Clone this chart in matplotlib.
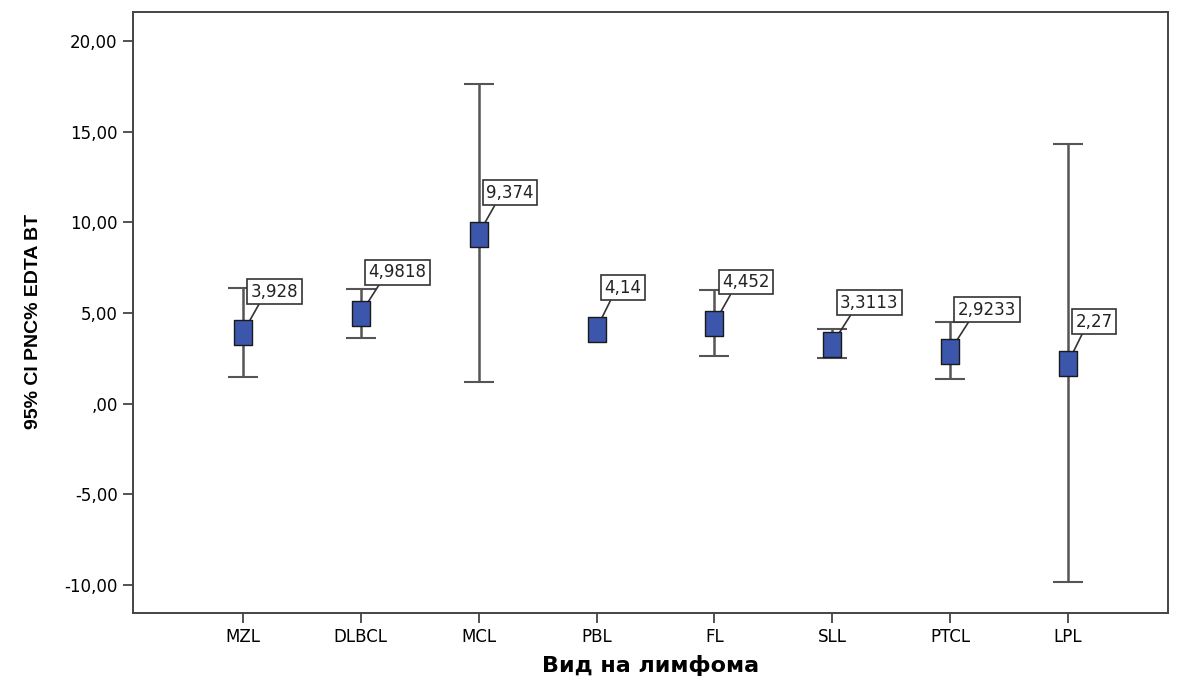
import numpy as np
import matplotlib
matplotlib.use("Agg")
import matplotlib.pyplot as plt
from matplotlib.path import Path

# Lymphoma types and PNC% (EDTA BT) means with 95% confidence limits
categories = ["MZL", "DLBCL", "MCL", "PBL", "FL", "SLL", "PTCL", "LPL"]
means = [3.928, 4.9818, 9.374, 4.14, 4.452, 3.3113, 2.9233, 2.27]
mean_labels = ["3,928", "4,9818", "9,374", "4,14", "4,452", "3,3113", "2,9233", "2,27"]
ci_lower = [1.49, 3.64, 1.18, np.nan, 2.65, 2.54, 1.34, -9.82]
ci_upper = [6.37, 6.33, 17.62, np.nan, 6.27, 4.10, 4.52, 14.34]
yticks = [-10, -5, 0, 5, 10, 15, 20]
ytick_labels = ["-10,00", "-5,00", ",00", "5,00", "10,00", "15,00", "20,00"]

fig = plt.figure(figsize=(11.81, 6.80), dpi=100)
ax = fig.add_axes([0.1126, 0.0985, 0.8764, 0.8839])

x = np.arange(len(categories))
m = np.array(means)
lo = np.array(ci_lower)
hi = np.array(ci_upper)
ok = np.isfinite(lo) & np.isfinite(hi)

ax.errorbar(x[ok], m[ok], yerr=[m[ok] - lo[ok], hi[ok] - m[ok]], fmt="none",
            ecolor="#555555", elinewidth=1.8, capsize=11, capthick=1.5, zorder=2)

# upright rectangular mean marker
rect = Path([(-0.36, -0.5), (0.36, -0.5), (0.36, 0.5), (-0.36, 0.5), (-0.36, -0.5)],
            [Path.MOVETO, Path.LINETO, Path.LINETO, Path.LINETO, Path.CLOSEPOLY])
ax.plot(x, m, linestyle="none", marker=rect, markersize=18,
        markerfacecolor="#3B56AA", markeredgecolor="#1a1a1a", markeredgewidth=1.0, zorder=4)

for xi, yi, lab in zip(x, m, mean_labels):
    ax.annotate(lab, xy=(xi, yi), xycoords="data",
                xytext=(5.5, 23), textcoords="offset points",
                ha="left", va="bottom", fontsize=12, family="DejaVu Sans", color="#222222",
                bbox=dict(boxstyle="square,pad=0.2", fc="white", ec="#333333", lw=1.2),
                arrowprops=dict(arrowstyle="-", color="#333333", lw=1.2,
                                relpos=(0.22, 0.0), shrinkA=0, shrinkB=0),
                zorder=3)

ax.set_xlim(-0.933, 7.848)
ax.set_ylim(-11.54, 21.6)
ax.set_xticks(x)
ax.set_xticklabels(categories, fontsize=12, family="DejaVu Sans")
ax.set_yticks(yticks)
ax.set_yticklabels(ytick_labels, fontsize=12, family="DejaVu Sans")
ax.tick_params(axis="both", direction="out", length=7, width=1.3, color="#444444", pad=4)

for s in ax.spines.values():
    s.set_color("#444444")
    s.set_linewidth(1.4)

ax.set_xlabel("Вид на лимфома", fontsize=16, fontweight="bold", family="DejaVu Sans", labelpad=6)
ax.set_ylabel("95% CI PNC% EDTA BT", fontsize=14, fontweight="bold",
              family="Liberation Sans")
ax.yaxis.set_label_coords(-0.088, 0.485)

fig.savefig("out.png", dpi=100, facecolor="white")
